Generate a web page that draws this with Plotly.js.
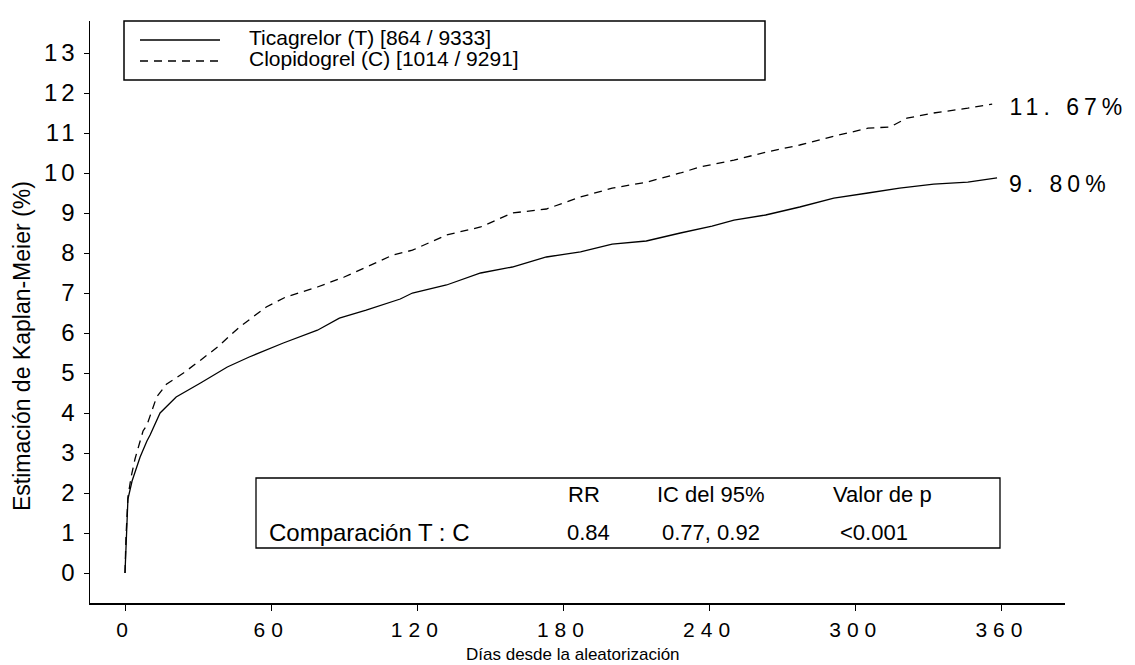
<!DOCTYPE html>
<html>
<head>
<meta charset="utf-8">
<script src="https://cdn.plot.ly/plotly-3.0.1.min.js"></script>
<style>
  html, body { margin: 0; padding: 0; background: #fff; }
  #chart { width: 1135px; height: 665px; }
  .xtick text { letter-spacing: 6px; }
  .ytick text { letter-spacing: 4px; }
  .annotation[data-index="2"] text, .annotation[data-index="3"] text { letter-spacing: 5px; }
</style>
</head>
<body>
<div id="chart"></div>
<script>
// ---- data ----
const daysT = [0, 0.4, 1.2, 2.9, 4.9, 6.2, 9, 10.3, 14.4, 21, 31, 42, 51, 65, 79, 88, 99, 113, 118, 132, 146, 159, 173, 187, 200, 214, 228, 241, 250, 263, 277, 291, 305, 318, 332, 346, 358];
const riskT = [0, 0.8, 1.85, 2.3, 2.7, 2.9, 3.3, 3.45, 4.0, 4.4, 4.75, 5.15, 5.4, 5.75, 6.07, 6.37, 6.57, 6.85, 7.0, 7.2, 7.5, 7.65, 7.9, 8.03, 8.22, 8.3, 8.5, 8.67, 8.82, 8.95, 9.15, 9.37, 9.5, 9.62, 9.72, 9.77, 9.88];

const daysC = [0, 0.4, 1.2, 2.5, 4.1, 7.4, 9, 13, 17, 24, 31, 38, 47, 58, 66, 79, 90, 99, 110, 118, 132, 146, 159, 173, 187, 200, 214, 228, 236, 250, 263, 277, 291, 305, 314, 321, 332, 346, 356];
const riskC = [0, 0.9, 1.9, 2.4, 2.85, 3.55, 3.7, 4.4, 4.72, 5.0, 5.32, 5.65, 6.15, 6.65, 6.9, 7.15, 7.4, 7.65, 7.95, 8.07, 8.45, 8.65, 9.0, 9.1, 9.4, 9.62, 9.77, 10.0, 10.15, 10.32, 10.52, 10.7, 10.92, 11.12, 11.15, 11.37, 11.5, 11.62, 11.72];

const xTicks = [0, 60, 120, 180, 240, 300, 360];
const yTicks = [0, 1, 2, 3, 4, 5, 6, 7, 8, 9, 10, 11, 12, 13];

const nameT = "Ticagrelor (T) [864 / 9333]";
const nameC = "Clopidogrel (C) [1014 / 9291]";
const endLabelT = "9. 80%";
const endLabelC = "11. 67%";

const statHeaders = ["RR", "IC del 95%", "Valor de p"];
const statRowLabel = "Comparación T : C";
const statValues = ["0.84", "0.77, 0.92", "<0.001"];

const yTitle = "Estimación de Kaplan-Meier (%)";
const xTitle = "Días desde la aleatorización";

// ---- layout helpers (pixel -> paper) ----
const W = 1135, H = 665;
const M = { l: 90, r: 70, t: 21, b: 62 };
const PW = W - M.l - M.r, PH = H - M.t - M.b;
const px = x => (x - M.l) / PW;
const py = y => (H - M.b - y) / PH;

const FONT = "Liberation Sans, Arial, sans-serif";

const traces = [
  { x: daysT, y: riskT, name: nameT, mode: "lines", type: "scatter",
    line: { color: "#000", width: 1.3 }, showlegend: false, hoverinfo: "skip" },
  { x: daysC, y: riskC, name: nameC, mode: "lines", type: "scatter",
    line: { color: "#000", width: 1.3, dash: "8px,6px" }, showlegend: false, hoverinfo: "skip" }
];

const shapes = [
  // legend box
  { type: "rect", xref: "paper", yref: "paper", x0: px(124), x1: px(765), y0: py(80), y1: py(21),
    line: { color: "#000", width: 1.5 }, fillcolor: "rgba(0,0,0,0)" },
  { type: "line", xref: "paper", yref: "paper", x0: px(140), x1: px(220), y0: py(40), y1: py(40),
    line: { color: "#000", width: 1.3 } },
  { type: "line", xref: "paper", yref: "paper", x0: px(140), x1: px(220), y0: py(61), y1: py(61),
    line: { color: "#000", width: 1.3, dash: "8px,6px" } },
  // stats box
  { type: "rect", xref: "paper", yref: "paper", x0: px(256), x1: px(1000), y0: py(548), y1: py(478),
    line: { color: "#000", width: 1.3 }, fillcolor: "rgba(0,0,0,0)" }
];

const txt = (x, y, text, size, anchor) => ({
  xref: "paper", yref: "paper", x: px(x), y: py(y), text: text, showarrow: false,
  xanchor: anchor || "center", yanchor: "middle",
  font: { family: FONT, size: size, color: "#000" }
});

const statCols = [584, 711, 882];
const valCols = [588, 711, 874];
const annotations = [
  txt(247, 37, nameT, 21, "left"),
  txt(247, 59, nameC, 21, "left"),
  txt(1025, 107, endLabelC, 23, "left"),
  txt(1022, 184, endLabelT, 23, "left"),
  txt(267, 532, statRowLabel, 24, "left"),
  ...statHeaders.map((h, i) => txt(statCols[i], 494, h, 22)),
  ...statValues.map((v, i) => txt(valCols[i], 532, v, 22)),
  Object.assign(txt(22, 346, yTitle, 23), { textangle: -90 }),
  txt(573, 654, xTitle, 17)
];

const layout = {
  width: W, height: H,
  margin: M,
  paper_bgcolor: "#fff", plot_bgcolor: "#fff",
  showlegend: false,
  xaxis: {
    range: [-14.37, 385.9], tickvals: xTicks, ticktext: xTicks.map(String),
    showgrid: false, zeroline: false, showline: true, linecolor: "#000", linewidth: 1.5,
    ticks: "outside", ticklen: 6, tickcolor: "#000", ticklabelstandoff: 1,
    tickfont: { family: FONT, size: 21, color: "#000" }, mirror: false, fixedrange: true
  },
  yaxis: {
    range: [-0.75, 13.8], tickvals: yTicks, ticktext: yTicks.map(String),
    showgrid: false, zeroline: false, showline: true, linecolor: "#000", linewidth: 1.5,
    ticks: "outside", ticklen: 5, tickcolor: "#000", ticklabelstandoff: 0,
    tickfont: { family: FONT, size: 24, color: "#000" }, mirror: false, fixedrange: true
  },
  shapes: shapes,
  annotations: annotations
};

Plotly.newPlot("chart", traces, layout, { staticPlot: true, displayModeBar: false });
</script>
</body>
</html>
